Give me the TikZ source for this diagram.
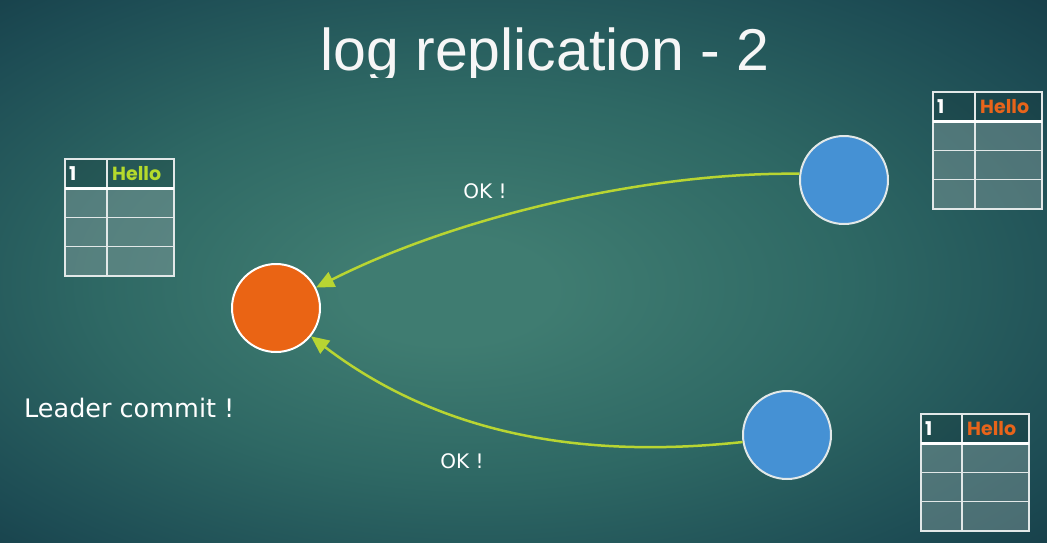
\documentclass[tikz,border=0pt]{standalone}
\usepackage{fontspec}
\setmainfont{DejaVu Sans}
\newfontfamily\titlefont{Liberation Sans}
\newfontfamily\tabfont{Poppins}
\usetikzlibrary{arrows.meta}
\definecolor{bgA}{HTML}{3F7C71}
\definecolor{bgM}{HTML}{2E6864}
\definecolor{bgB}{HTML}{1D4C54}
\definecolor{bgC}{HTML}{0D2B39}
\definecolor{leaderC}{HTML}{EA6414}
\definecolor{followC}{HTML}{4591D4}
\definecolor{okC}{HTML}{B8D532}
\definecolor{helloG}{HTML}{B5DA2C}
\definecolor{helloO}{HTML}{E8641A}
\definecolor{gridC}{HTML}{E2E8E8}
\definecolor{cellC}{HTML}{8FA5A5}
\pgfdeclareradialshading{bgshade}{\pgfpoint{-4bp}{-2bp}}{color(0bp)=(bgA); color(5bp)=(bgA); color(18bp)=(bgM); color(31bp)=(bgB); color(46bp)=(bgC)}
\tikzset{
  leader/.style={circle, draw=white, line width=2pt, fill=leaderC, minimum size=88pt, inner sep=0pt},
  follower/.style={circle, draw=gridC, line width=2pt, fill=followC, minimum size=88pt, inner sep=0pt},
  okarrow/.style={draw=okC, line width=2.5pt, -{Triangle[length=18pt,width=16pt]}},
  oktext/.style={text=white, font=\fontsize{20}{24}\selectfont},
  headfill/.style={fill=black, fill opacity=0.12},
  cellfill/.style={fill=cellC, fill opacity=0.42},
  gridline/.style={draw=gridC, line width=1.3pt},
  headline/.style={draw=white, line width=2.6pt},
  tabtext/.style={font=\tabfont\bfseries\fontsize{19}{21}\selectfont, inner sep=0pt, anchor=west}
}
\newcommand\logtable[6]{% name, left, top, column, right, colour
  \pgfmathsetmacro\ta{#3+29.25}
  \pgfmathsetmacro\tb{#3+58.5}
  \pgfmathsetmacro\tc{#3+87.75}
  \pgfmathsetmacro\td{#3+117}
  \pgfmathsetmacro\tm{#3+15}
  \fill[headfill] (#2,#3) rectangle (#5,\ta);
  \fill[cellfill] (#2,\ta) rectangle (#5,\td);
  \draw[gridline] (#2,#3) rectangle (#5,\td);
  \draw[gridline] (#4,#3) -- (#4,\td);
  \draw[gridline] (#2,\tb) -- (#5,\tb) (#2,\tc) -- (#5,\tc);
  \draw[headline] (#2,\ta) -- (#5,\ta);
  \node[tabtext, text=white] (#1-idx) at ({#2+4},\tm) {1};
  \node[tabtext, text=#6] (#1-val) at ({#4+5},\tm) {Hello};
}
\begin{document}
\begin{tikzpicture}[x=1pt,y=-1pt]
\useasboundingbox (0,0) rectangle (1047,542);
\shade[shading=bgshade] (0,0) rectangle (1047,542);
% title (descender clipped as in the slide)
\begin{scope}
  \clip (0,0) rectangle (1047,77);
  \node[anchor=base, text=white!93!gray, font=\titlefont\fontsize{59}{64}\selectfont, inner sep=0pt] (title) at (545,70) {log replication - 2};
\end{scope}
% tables
\logtable{lt}{65}{159}{107}{174}{helloG}
\logtable{rt}{933}{92}{975}{1042}{helloO}
\logtable{rb}{921}{414}{962}{1029}{helloO}
% servers
\node[leader] (L) at (276,308) {};
\node[follower] (F1) at (844,180) {};
\node[follower] (F2) at (787,435) {};
% replies
\draw[okarrow] (F1.172) .. controls (650,172) and (460,215) .. (L.27);
\draw[okarrow] (F2.189) .. controls (620,455) and (460,450) .. (L.-39);
\node[oktext] (ok1) at (485,191) {OK !};
\node[oktext] (ok2) at (462,461) {OK !};
\node[text=white, font=\fontsize{25.5}{29}\selectfont, anchor=west, inner sep=0pt] (commit) at (24,408) {Leader commit !};
\end{tikzpicture}
\end{document}
